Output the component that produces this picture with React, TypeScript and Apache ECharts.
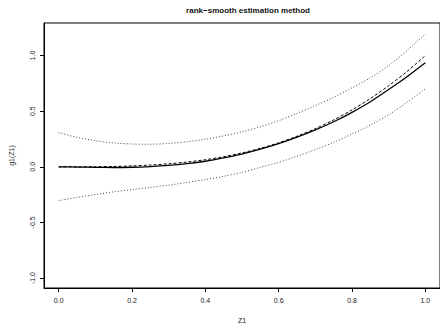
import React, { useEffect, useRef } from "react";
import * as echarts from "echarts";

const zValues = [0, 0.05, 0.1, 0.15, 0.2, 0.25, 0.3, 0.35, 0.4, 0.45, 0.5, 0.55, 0.6, 0.65, 0.7, 0.75, 0.8, 0.85, 0.9, 0.95, 1.0];
const estimate = [0, -0.002, -0.005, -0.006, -0.004, 0.002, 0.012, 0.028, 0.05, 0.08, 0.115, 0.158, 0.208, 0.266, 0.332, 0.405, 0.49, 0.585, 0.695, 0.81, 0.935];
const truth = [0, 0.0001, 0.001, 0.003, 0.008, 0.016, 0.027, 0.043, 0.064, 0.091, 0.125, 0.166, 0.216, 0.275, 0.343, 0.422, 0.512, 0.614, 0.729, 0.857, 1.0];
const upper = [0.307, 0.265, 0.235, 0.215, 0.205, 0.203, 0.21, 0.225, 0.248, 0.278, 0.315, 0.36, 0.415, 0.48, 0.55, 0.625, 0.71, 0.8, 0.91, 1.045, 1.194];
const lower = [-0.305, -0.275, -0.25, -0.225, -0.205, -0.185, -0.165, -0.14, -0.115, -0.085, -0.05, -0.005, 0.04, 0.095, 0.155, 0.22, 0.295, 0.375, 0.468, 0.58, 0.7];
const xTicks = [0, 0.2, 0.4, 0.6, 0.8, 1.0];
const yTicks = [-1, -0.5, 0, 0.5, 1];

const pair = (ys: number[]) => zValues.map((x, i) => [x, ys[i]]);

export default function App() {
  const ref = useRef<HTMLDivElement>(null);
  useEffect(() => {
    if (!ref.current) return;
    const chart = echarts.init(ref.current, null, { renderer: "svg" });
    const font = "'Liberation Sans', Arial, Helvetica, sans-serif";
    const lbl = { fontFamily: font, fontSize: 7, color: "#222" };
    chart.setOption({
      animation: false,
      backgroundColor: "#fff",
      title: {
        text: "rank−smooth estimation method",
        left: 243,
        top: 1,
        textAlign: "center",
        textStyle: { fontFamily: font, fontSize: 8, fontWeight: "bold", color: "#111" },
      },
      grid: {
        left: 43,
        top: 23,
        width: 400,
        height: 266,
        show: true,
        borderColor: "#000000",
        borderWidth: 1,
        backgroundColor: "transparent",
      },
      xAxis: {
        type: "value",
        min: -0.04,
        max: 1.04,
        name: "Z1",
        nameLocation: "middle",
        nameGap: 29,
        nameTextStyle: lbl,
        splitLine: { show: false },
        axisLine: { show: true, onZero: false, lineStyle: { color: "#000000", width: 1 } },
        axisTick: { show: true, inside: false, length: 4, customValues: xTicks, lineStyle: { color: "#000000" } },
        axisLabel: { ...lbl, margin: 9, customValues: xTicks, formatter: (v: number) => v.toFixed(1) },
      },
      yAxis: {
        type: "value",
        min: -1.0896,
        max: 1.293,
        name: "g1(Z1)",
        nameLocation: "middle",
        nameRotate: 90,
        nameGap: 29,
        nameTextStyle: lbl,
        splitLine: { show: false },
        axisLine: { show: true, onZero: false, lineStyle: { color: "#000000", width: 1 } },
        axisTick: { show: true, inside: false, length: 4, customValues: yTicks, lineStyle: { color: "#000000" } },
        axisLabel: { ...lbl, margin: 8, rotate: 90, customValues: yTicks, formatter: (v: number) => v.toFixed(1) },
      },
      series: [
        {
          type: "line",
          data: pair(upper),
          smooth: 0.3,
          symbol: "none",
          lineStyle: { color: "#444", width: 1, type: [1, 2] },
        },
        {
          type: "line",
          data: pair(lower),
          smooth: 0.3,
          symbol: "none",
          lineStyle: { color: "#444", width: 1, type: [1, 2] },
        },
        {
          type: "line",
          data: pair(truth),
          smooth: 0.3,
          symbol: "none",
          lineStyle: { color: "#000", width: 1, type: [3, 2] },
        },
        {
          type: "line",
          data: pair(estimate),
          smooth: 0.3,
          symbol: "none",
          lineStyle: { color: "#000", width: 1.3, type: "solid" },
        },
      ],
    });
    return () => chart.dispose();
  }, []);
  return (
    <div
      ref={ref}
      style={{ position: "fixed", left: 0, top: 0, width: 440, height: 329, background: "#fff" }}
    />
  );
}
